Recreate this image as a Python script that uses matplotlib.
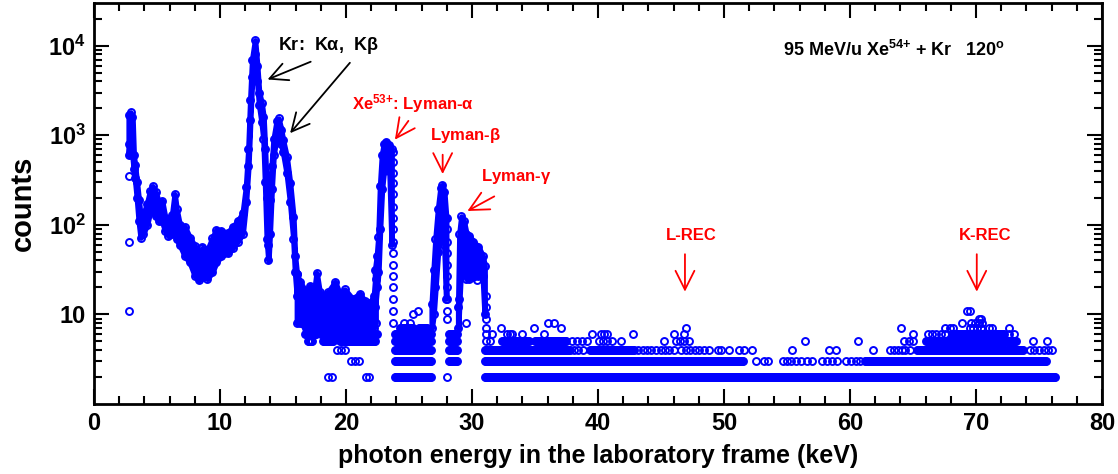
#!/usr/bin/env python3
"""
X-ray spectrum: 95 MeV/u Xe54+ + Kr, observed at 120 deg.
"""

import numpy as np
import matplotlib.pyplot as plt
from matplotlib.ticker import FixedLocator, FixedFormatter, MultipleLocator

plt.rcParams['font.family'] = ['Liberation Sans', 'DejaVu Sans']
plt.rcParams['font.weight'] = 'bold'
plt.rcParams['mathtext.fontset'] = 'custom'
plt.rcParams['mathtext.rm'] = 'Liberation Sans'
plt.rcParams['mathtext.bf'] = 'Liberation Sans:bold'
plt.rcParams['mathtext.it'] = 'Liberation Sans:italic'

# ---- dense part of the spectrum: upper / lower edge of the point cloud ----
# low-energy structure + Kr K-alpha / K-beta
kr_energy = [2.75, 2.9, 3.05, 3.15, 3.25, 3.4, 3.55, 3.7, 3.9, 4.2, 4.45, 4.65,
             4.9, 5.15, 5.4, 5.65, 5.9, 6.2, 6.4, 6.55, 6.8, 7.2, 7.6, 8.0,
             8.3, 8.6, 9.0, 9.4, 9.7, 10.1, 10.6, 11.0, 11.4, 11.8, 12.06,
             12.25, 12.4, 12.55, 12.78, 12.95, 13.1, 13.3, 13.45, 13.57, 13.71,
             13.84, 13.95, 14.1, 14.25, 14.5, 14.65, 14.85, 15.0, 15.29, 15.56,
             15.82, 15.95, 16.1]
kr_upper = [1700, 1800, 1600, 600, 460, 300, 190, 120, 130, 170, 240, 270,
            230, 175, 185, 120, 115, 130, 220, 150, 100, 95, 72, 58,
            50, 55, 52, 72, 88, 85, 82, 95, 110, 135, 265,
            700, 2500, 7000, 11500, 6000, 3000, 2300, 1600, 700, 200,
            60, 190, 450, 900, 1450, 1540, 1150, 880, 575, 290,
            123, 45, 28]
kr_lower = [600, 1100, 600, 420, 330, 200, 110, 72, 80, 100, 140, 150,
            125, 110, 110, 85, 75, 80, 90, 70, 60, 45, 38, 27,
            24, 26, 25, 30, 38, 45, 48, 55, 65, 80, 180,
            450, 1500, 4500, 8000, 4000, 2200, 1400, 900, 300, 70,
            40, 80, 250, 600, 1000, 1200, 800, 650, 380, 180,
            70, 30, 16]

# continuum between Kr K-beta and Xe Lyman-alpha
bg_energy = [16.1, 16.35, 16.8, 17.14, 17.45, 17.67, 17.9, 18.2, 18.6, 19.13,
             19.5, 19.9, 20.5, 21.1, 21.5, 21.9, 22.2, 22.35]
bg_upper = [28, 23, 18, 21, 17, 29, 18, 16, 18, 23, 17, 19, 15, 17, 14, 13.5, 16, 25]
bg_lower = [8, 8, 7, 7, 7, 8, 7, 7, 7, 7, 7, 7, 7, 7, 7, 7, 7, 8]

# Xe53+ Lyman-alpha
lya_energy = [22.3, 22.45, 22.57, 22.7, 22.85, 23.0, 23.2, 23.45, 23.62]
lya_upper = [31, 45, 74, 270, 600, 800, 850, 780, 700]
lya_lower = [12, 20, 30, 90, 250, 400, 500, 400, 60]

# Lyman-beta
lyb_energy = [26.8, 26.95, 27.1, 27.3, 27.5, 27.65, 27.8, 27.95]
lyb_upper = [13, 31, 70, 150, 260, 280, 230, 120]
lyb_lower = [7, 10, 20, 50, 120, 150, 60, 15]

# Lyman-gamma and higher members
lyg_energy = [28.9, 29.0, 29.15, 29.35, 29.55, 29.8, 30.1, 30.5, 30.85, 31.0]
lyg_upper = [12, 80, 124, 110, 80, 75, 65, 57, 45, 35]
lyg_lower = [7, 15, 40, 30, 25, 25, 26, 27, 27, 10]

# single channels with a large spread (steep peak edges)
edge_energy = [23.75, 28.05, 31.08]
edge_counts = [[650, 500, 380, 290, 220, 160, 120, 90, 65, 48, 36, 27, 20, 15, 11, 8],
               [120, 90, 65, 48, 36, 27, 20, 15, 11, 9],
               [16, 12, 9, 7]]

# ---- low-count region: integer count levels ----
row_levels = [2, 3, 4, 5, 6, 7]
row_spans = [
    [(23.9, 26.85), (31.05, 76.3)],
    [(23.9, 26.85), (28.2, 28.9), (31.05, 51.6), (61.2, 75.6)],
    [(23.9, 26.85), (28.2, 28.9), (31.05, 37.8), (39.4, 42.9), (65.3, 73.7)],
    [(17.0, 17.4), (18.2, 19.0), (19.5, 22.3), (23.9, 26.85), (28.2, 28.9),
     (32.4, 34.6), (35.0, 37.5), (66.0, 73.2)],
    [(16.75, 17.65), (18.05, 19.1), (19.25, 22.5), (23.9, 26.85), (28.2, 28.9),
     (68.1, 72.3)],
    [(24.3, 25.4), (25.8, 26.5)],
]

# isolated channels (energy keV, counts)
lone_energy = [18.6, 18.9, 21.55, 21.85, 28.05,
               20.4, 20.7, 21.0, 52.5, 53.2, 53.5, 54.7, 55.0, 55.3, 55.7, 56.1,
               56.6, 57.0, 57.8, 58.2, 58.6, 59.0, 59.7, 60.1, 60.5, 60.8,
               19.3, 19.6, 19.9, 38.1, 38.4, 38.8, 43.2, 43.6, 43.9, 44.2, 44.6,
               45.0, 45.3, 45.6, 46.0, 46.6, 47.0, 47.3, 47.7, 48.0, 48.4, 48.8,
               49.5, 49.8, 50.4, 51.2, 51.6, 52.2, 55.4, 58.3, 58.9, 61.8,
               63.2, 63.5, 63.8, 64.1, 64.4, 64.8, 74.3, 74.6, 75.0, 75.4, 75.7, 76.0,
               31.1, 31.4, 37.9, 38.3, 38.7, 39.1, 40.1, 40.4, 40.7, 41.1, 41.8,
               45.2, 46.2, 46.5, 46.8, 47.2, 56.4, 60.6, 64.3, 64.7, 65.0, 74.5, 75.6,
               31.1, 31.6, 32.8, 33.0, 33.2, 34.0, 35.7, 39.5, 40.2, 40.5, 40.7,
               42.8, 46.0, 46.8, 65.0, 66.2, 66.5, 66.8, 67.2, 67.5, 72.6, 73.0,
               32.3, 34.9, 37.1, 47.0, 64.05, 67.5, 67.9, 68.2, 69.5, 69.8, 70.1,
               70.4, 71.0, 71.3, 72.6,
               24.6, 25.1, 36.0, 36.5, 68.9, 69.6, 69.9, 70.2, 70.5,
               25.35, 70.2, 70.4, 25.7, 69.3, 69.5,
               2.8, 2.8, 2.8, 2.8, 8.55, 29.5, 30.4]
lone_counts = [2, 2, 2, 2, 2,
               3, 3, 3, 3, 3, 3, 3, 3, 3, 3, 3,
               3, 3, 3, 3, 3, 3, 3, 3, 3, 3,
               4, 4, 4, 4, 4, 4, 4, 4, 4, 4, 4,
               4, 4, 4, 4, 4, 4, 4, 4, 4, 4, 4,
               4, 4, 4, 4, 4, 4, 4, 4, 4, 4,
               4, 4, 4, 4, 4, 4, 4, 4, 4, 4, 4, 4,
               5, 5, 5, 5, 5, 5, 5, 5, 5, 5, 5,
               5, 5, 5, 5, 5, 5, 5, 5, 5, 5, 5, 5,
               6, 6, 6, 6, 6, 6, 6, 6, 6, 6, 6,
               6, 6, 6, 6, 6, 6, 6, 6, 6, 6, 6,
               7, 7, 7, 7, 7, 7, 7, 7, 7, 7, 7,
               7, 7, 7, 7,
               8, 8, 8, 8, 8, 8, 8, 8, 8,
               10, 9, 9, 11, 11, 11,
               11, 65, 350, 800, 57, 8, 24]

CHANNEL = 0.08  # keV, channel width of the rows
BLUE = '#0000ff'
MK = dict(marker='o', ls='none', ms=5.0, mfc='none', mec=BLUE, mew=1.4)


def main():
    fig = plt.figure(figsize=(11.18, 4.74), dpi=100)
    ax = fig.add_axes([0.0841, 0.1477, 0.9016, 0.846])
    ax.set_yscale('log')

    # dense bands
    for e, up, lo in [(kr_energy, kr_upper, kr_lower),
                      (bg_energy, bg_upper, bg_lower),
                      (lya_energy, lya_upper, lya_lower),
                      (lyb_energy, lyb_upper, lyb_lower),
                      (lyg_energy, lyg_upper, lyg_lower)]:
        ax.fill_between(e, lo, up, facecolor=BLUE, edgecolor=BLUE, lw=4)
        ax.plot(e, up, **MK)
        ax.plot(e, lo, **MK)

    for e, cts in zip(edge_energy, edge_counts):
        ax.plot([e] * len(cts), cts, **MK)

    # integer count rows
    for level, spans in zip(row_levels, row_spans):
        for a, b in spans:
            x = np.arange(a, b, CHANNEL)
            ax.plot(x, np.full(len(x), level), **MK)

    ax.plot(lone_energy, lone_counts, **MK)

    # axes
    ax.set_xlim(0, 80)
    ax.set_ylim(1.0, 3e4)
    ax.xaxis.set_major_locator(MultipleLocator(10))
    ax.xaxis.set_minor_locator(MultipleLocator(2))
    ax.yaxis.set_major_locator(FixedLocator([10, 100, 1000, 10000]))
    ax.yaxis.set_major_formatter(FixedFormatter(
        ['10', r'10$^{\mathbf{2}}$', r'10$^{\mathbf{3}}$', r'10$^{\mathbf{4}}$']))
    minors = [m * 10 ** k for k in range(0, 5) for m in range(2, 10)]
    ax.yaxis.set_minor_locator(FixedLocator([v for v in minors if v < 3e4]))
    ax.yaxis.set_minor_formatter(FixedFormatter([]))
    ax.tick_params(which='both', direction='in', top=True, right=True,
                   width=1.5, labelsize=17, pad=6)
    ax.tick_params(which='major', length=11)
    ax.tick_params(which='minor', length=5.5)
    for s in ax.spines.values():
        s.set_linewidth(2)

    ax.set_xlabel('photon energy in the laboratory frame (keV)', fontsize=18,
                  fontweight='bold', labelpad=6)
    ax.set_ylabel('counts', fontsize=21, fontweight='bold', labelpad=8)

    # annotations
    ax.text(54.7, 8950, r'95 MeV/u Xe$^{\mathbf{54{+}}}$ + Kr   120$^{\mathbf{o}}$',
            fontsize=13, fontweight='bold', va='center', ha='left')
    ax.text(14.6, 1.0e4, r'Kr:  K$\mathrm{\alpha}$,  K$\mathrm{\beta}$',
            fontsize=13, fontweight='bold', va='center', ha='left')

    black = dict(arrowstyle='->', color='black', lw=1.3, mutation_scale=32)
    ax.annotate('', xy=(13.57, 4085), xytext=(17.4, 6810), arrowprops=black)
    ax.annotate('', xy=(15.42, 1000), xytext=(20.45, 6810), arrowprops=black)

    red = dict(arrowstyle='->', color='red', lw=1.3, mutation_scale=34)
    ax.text(20.5, 2250, r'Xe$^{\mathbf{53{+}}}$: Lyman-$\mathrm{\alpha}$', color='red',
            fontsize=12, fontweight='bold', va='center', ha='left')
    ax.annotate('', xy=(23.75, 843), xytext=(25.08, 1535), arrowprops=red)
    ax.text(29.5, 1000, r'Lyman-$\mathrm{\beta}$', color='red',
            fontsize=12, fontweight='bold', va='center', ha='center')
    ax.annotate('', xy=(27.67, 344), xytext=(27.67, 652), arrowprops=red)
    ax.text(33.5, 344, r'Lyman-$\mathrm{\gamma}$', color='red',
            fontsize=12, fontweight='bold', va='center', ha='center')
    ax.annotate('', xy=(29.44, 138), xytext=(31.96, 215), arrowprops=red)
    ax.text(47.4, 75.5, 'L-REC', color='red', fontsize=12, fontweight='bold',
            va='center', ha='center')
    ax.annotate('', xy=(46.9, 16.7), xytext=(46.9, 50.5), arrowprops=red)
    ax.text(70.7, 75.5, 'K-REC', color='red', fontsize=12, fontweight='bold',
            va='center', ha='center')
    ax.annotate('', xy=(70.06, 16.7), xytext=(70.06, 50.5), arrowprops=red)

    fig.savefig('out.png', dpi=100)
    plt.close(fig)


if __name__ == "__main__":
    main()
